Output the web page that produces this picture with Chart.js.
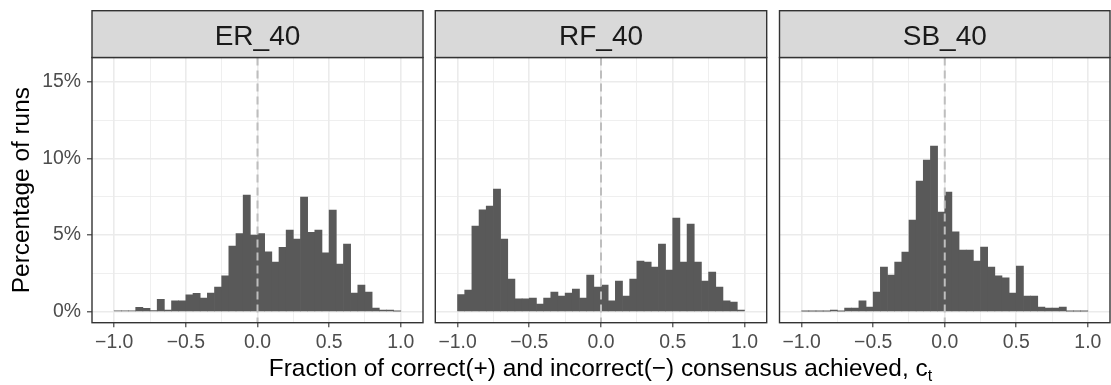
<!DOCTYPE html>
<html>
<head>
<meta charset="utf-8">
<script src="https://cdn.jsdelivr.net/npm/chart.js@4/dist/chart.umd.min.js"></script>
<style>
  html, body { margin: 0; padding: 0; background: #fff; }
  #wrap { position: relative; width: 1111px; height: 385px; overflow: hidden;
          font-family: "Liberation Sans", Arial, sans-serif; }
  #wrap canvas { position: absolute; top: 0; }
  #xtitle { position: absolute; left: 0; top: 355.5px; width: 1201px; text-align: center;
            font-size: 24.4px; line-height: 24px; color: #000; white-space: nowrap; }
  #xtitle sub { font-size: 16px; vertical-align: -5px; line-height: 0; }
</style>
</head>
<body>
<div id="wrap">
  <canvas id="panelER" width="434" height="385" style="left:0px"></canvas>
  <canvas id="panelRF" width="352" height="385" style="left:425px"></canvas>
  <canvas id="panelSB" width="342" height="385" style="left:769px"></canvas>
  <div id="xtitle">Fraction of correct(+) and incorrect(−) consensus achieved, c<sub>t</sub></div>
</div>
<script>
// histogram bins (width 0.05) over c_t in [-1, 1], given by their mid points
const binMids = [
  -0.975, -0.925, -0.875, -0.825, -0.775, -0.725, -0.675, -0.625, -0.575, -0.525,
  -0.475, -0.425, -0.375, -0.325, -0.275, -0.225, -0.175, -0.125, -0.075, -0.025,
   0.025,  0.075,  0.125,  0.175,  0.225,  0.275,  0.325,  0.375,  0.425,  0.475,
   0.525,  0.575,  0.625,  0.675,  0.725,  0.775,  0.825,  0.875,  0.925,  0.975
];

// percentage of runs per bin
const er40 = [
  0.05, 0.05, 0.05, 0.28, 0.22, 0.07, 0.80, 0.10, 0.70, 0.70,
  1.09, 1.20, 0.89, 1.22, 1.61, 2.33, 4.28, 5.10, 7.60, 5.00,
  5.10, 3.90, 3.24, 4.20, 5.33, 4.74, 7.48, 5.17, 5.33, 3.83,
  6.63, 3.10, 4.41, 1.22, 1.74, 1.28, 0.24, 0.10, 0.10, 0.04
];
const rf40 = [
  1.11, 1.41, 5.59, 6.65, 6.89, 8.00, 4.74, 2.13, 0.83, 0.83,
  0.89, 0.50, 0.89, 1.28, 1.02, 1.22, 1.48, 0.89, 2.39, 1.61,
  1.74, 0.70, 2.00, 1.02, 2.13, 3.30, 3.24, 2.91, 4.41, 2.72,
  6.11, 3.24, 5.72, 3.24, 2.00, 2.59, 1.61, 0.70, 0.63, 0.11
];
const sb40 = [
  0.03, 0.03, 0.03, 0.03, 0.10, 0.04, 0.24, 0.24, 0.70, 0.30,
  1.28, 2.91, 2.39, 3.24, 3.89, 5.98, 8.52, 9.89, 10.80, 6.50,
  7.80, 5.20, 4.02, 4.02, 3.30, 4.22, 2.91, 2.33, 2.20, 1.22,
  2.98, 1.02, 1.02, 0.30, 0.24, 0.24, 0.30, 0.04, 0.04, 0.04
];

const xGrid = [-1, -0.75, -0.5, -0.25, 0, 0.25, 0.5, 0.75, 1];
const yGrid = [0, 2.5, 5, 7.5, 10, 12.5, 15];

const FONT = '"Liberation Sans", Arial, sans-serif';
const isMajorX = v => Math.abs(v * 2 - Math.round(v * 2)) < 1e-9;
const isMajorY = v => Math.abs(v % 5) < 1e-9;
const tickVal = c => (c.tick ? c.tick.value : NaN);
const fmtX = v => v.toFixed(1).replace('-', '\u2212');

// dashed reference line at c_t = 0, over the bars
const zeroLine = {
  id: 'zeroLine',
  afterDatasetsDraw(chart) {
    const { ctx, chartArea: a, scales: { x } } = chart;
    const px = x.getPixelForValue(0);
    ctx.save();
    ctx.strokeStyle = '#BEBEBE';
    ctx.lineWidth = 2;
    ctx.setLineDash([8, 5]);
    ctx.beginPath();
    ctx.moveTo(px, a.top);
    ctx.lineTo(px, a.bottom);
    ctx.stroke();
    ctx.restore();
  }
};

// panel border + facet strip on top
const facetFrame = {
  id: 'facetFrame',
  afterDraw(chart, args, opts) {
    const { ctx, chartArea: a } = chart;
    const w = a.right - a.left;
    ctx.save();
    ctx.strokeStyle = '#333333';
    ctx.lineWidth = 1.4;
    ctx.strokeRect(a.left, a.top, w, a.bottom - a.top);
    ctx.fillStyle = '#D9D9D9';
    ctx.fillRect(a.left, opts.stripTop, w, a.top - opts.stripTop);
    ctx.strokeRect(a.left, opts.stripTop, w, a.top - opts.stripTop);
    ctx.fillStyle = '#1A1A1A';
    ctx.font = '28px ' + FONT;
    ctx.textAlign = 'center';
    ctx.textBaseline = 'alphabetic';
    ctx.fillText(opts.label, a.left + w / 2, opts.baseline);
    ctx.restore();
  }
};

function makePanel(id, label, values, pad, showY) {
  return new Chart(document.getElementById(id), {
    type: 'bar',
    data: {
      datasets: [{
        data: binMids.map((x, i) => ({ x: x, y: values[i] })),
        backgroundColor: '#595959',
        borderWidth: 0,
        barPercentage: 1,
        categoryPercentage: 1
      }]
    },
    options: {
      responsive: false,
      animation: false,
      events: [],
      layout: { padding: { left: pad[0], right: pad[1], top: 57.5, bottom: 0 } },
      plugins: {
        legend: { display: false },
        tooltip: { enabled: false },
        facetFrame: { label: label, stripTop: 10.7, baseline: 45 }
      },
      scales: {
        x: {
          type: 'linear',
          offset: false,
          min: -1.155,
          max: 1.155,
          afterBuildTicks: s => { s.ticks = xGrid.map(v => ({ value: v })); },
          afterFit: s => { s.height = 62.3; },
          border: { display: false },
          grid: {
            offset: false,
            color: '#EBEBEB',
            lineWidth: c => isMajorX(tickVal(c)) ? 1.6 : 0.8,
            tickLength: 4.5,
            tickColor: c => isMajorX(tickVal(c)) ? '#333333' : 'rgba(0,0,0,0)',
            tickWidth: 1.1
          },
          ticks: {
            autoSkip: false,
            maxRotation: 0,
            padding: 4,
            color: '#4D4D4D',
            font: { family: FONT, size: 19.4 },
            callback: v => isMajorX(v) ? fmtX(v) : ''
          }
        },
        y: {
          type: 'linear',
          min: -0.72,
          max: 16.58,
          afterBuildTicks: s => { s.ticks = yGrid.map(v => ({ value: v })); },
          afterFit: s => { s.width = showY ? 92 : 0; },
          border: { display: false },
          title: {
            display: showY,
            text: 'Percentage of runs',
            color: '#000',
            font: { family: FONT, size: 24.4 },
            padding: { top: 7.4, bottom: 0 }
          },
          grid: {
            color: '#EBEBEB',
            lineWidth: c => isMajorY(tickVal(c)) ? 1.6 : 0.8,
            drawTicks: showY,
            tickLength: 5,
            tickColor: c => isMajorY(tickVal(c)) ? '#333333' : 'rgba(0,0,0,0)',
            tickWidth: 1.1
          },
          ticks: {
            display: showY,
            padding: 6,
            color: '#4D4D4D',
            font: { family: FONT, size: 19.4 },
            callback: v => isMajorY(v) ? v + '%' : ''
          }
        }
      }
    },
    plugins: [zeroLine, facetFrame]
  });
}

makePanel('panelER', 'ER_40', er40, [0, 11], true);
makePanel('panelRF', 'RF_40', rf40, [10.3, 10.3], false);
makePanel('panelSB', 'SB_40', sb40, [10.5, 1], false);
</script>
</body>
</html>
